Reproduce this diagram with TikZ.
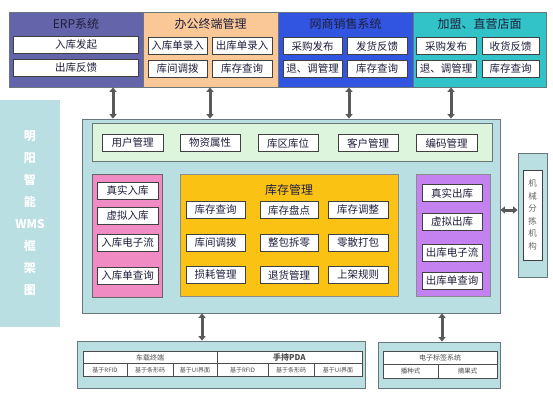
\documentclass[tikz,border=0pt]{standalone}
\usepackage{fontspec}
\setmainfont{Noto Sans CJK SC}
\usepackage{xcolor}
\usetikzlibrary{arrows.meta}
\definecolor{lblue}{RGB}{185,223,227}
\definecolor{rim}{RGB}{105,118,122}
\definecolor{grn}{RGB}{220,245,220}
\definecolor{ylw}{RGB}{250,195,20}
\definecolor{pnk}{RGB}{240,140,195}
\definecolor{vio}{RGB}{195,130,240}
\definecolor{erpc}{RGB}{100,100,170}
\definecolor{offc}{RGB}{250,200,150}
\definecolor{netc}{RGB}{50,85,225}
\definecolor{joinc}{RGB}{50,195,200}
\definecolor{ink}{RGB}{30,30,60}

\begin{document}
\begin{tikzpicture}[x=1pt,y=-1pt,
  band/.style={draw=rim, line width=0.8pt, minimum width=#1, inner sep=0pt},
  cell/.style={draw=black!75, fill=white, line width=1pt, minimum height=17pt, minimum width=#1, inner sep=0pt, text=ink, font=\fontsize{10.5}{12}\selectfont},
  head/.style={text=ink, font=\fontsize{12}{14}\selectfont},
  tcell/.style={draw=black!70, fill=white, line width=0.6pt, minimum width=#1, minimum height=12.5pt, inner sep=0pt, text=black!70, font=\fontsize{6}{7}\selectfont},
  link/.style={draw=gray!70!black, line width=3pt, {Triangle[length=4.5pt,width=7pt]}-{Triangle[length=4.5pt,width=7pt]}}]
\useasboundingbox (0,0) rectangle (553,400);

% top systems
\node[band=134pt, minimum height=75pt, fill=erpc] (erp) at (76,49.5) {};
\node[band=135pt, minimum height=75pt, fill=offc] (off) at (210.5,49.5) {};
\node[band=135pt, minimum height=75pt, fill=netc] (net) at (345.5,49.5) {};
\node[band=133pt, minimum height=75pt, fill=joinc] (join) at (479.5,49.5) {};
\node[head] (erpt) at (76,24) {ERP系统};
\node[head] (offt) at (210.5,24) {办公终端管理};
\node[head] (nett) at (345.5,24) {网商销售系统};
\node[head] (joint) at (479.5,24) {加盟、直营店面};
\node[cell=125pt] (e1) at (76,45) {入库发起};
\node[cell=125pt] (e2) at (76,68) {出库反馈};
\node[cell=59pt] (o1) at (177.5,46) {入库单录入};
\node[cell=60pt] (o2) at (242,46) {出库单录入};
\node[cell=59pt] (o3) at (177.5,68.5) {库间调拨};
\node[cell=60pt] (o4) at (242,68.5) {库存查询};
\node[cell=59pt] (n1) at (312.5,46) {采购发布};
\node[cell=60pt] (n2) at (377,46) {发货反馈};
\node[cell=59pt] (n3) at (312.5,68.5) {退、调管理};
\node[cell=60pt] (n4) at (377,68.5) {库存查询};
\node[cell=60pt] (j1) at (446,46) {采购发布};
\node[cell=57pt] (j2) at (510.5,46) {收货反馈};
\node[cell=60pt] (j3) at (446,68.5) {退、调管理};
\node[cell=57pt] (j4) at (510.5,68.5) {库存查询};

% side label
\node[fill=lblue, minimum width=60pt, minimum height=227pt, inner sep=0pt, text=white,
  align=center, font=\bfseries\fontsize{12}{22}\selectfont] (side) at (30,213.5)
  {明\\阳\\智\\能\\WMS\\框\\架\\图};

% main frame
\node[band=418pt, minimum height=194pt, fill=lblue] (main) at (291,216) {};
\node[band=400pt, minimum height=38pt, fill=grn] (base) at (292,142) {};
\node[cell=61pt] (b1) at (132.5,143) {用户管理};
\node[cell=60pt] (b2) at (210,143) {物资属性};
\node[cell=60pt] (b3) at (288,143) {库区库位};
\node[cell=60pt] (b4) at (368,143) {客户管理};
\node[cell=61pt] (b5) at (446.5,143) {编码管理};

\node[band=70pt, minimum height=123pt, fill=pnk, draw=black!60] (inb) at (127,235.5) {};
\node[cell=61pt] (i1) at (127.5,190.5) {真实入库};
\node[cell=61pt] (i2) at (127.5,215.5) {虚拟入库};
\node[cell=61pt] (i3) at (127.5,242.5) {入库电子流};
\node[cell=61pt] (i4) at (127.5,276) {入库单查询};

\node[band=218pt, minimum height=122pt, fill=ylw, draw=black!45] (stock) at (289,235) {};
\node[head] (stockt) at (289,190) {库存管理};
\node[cell=59pt] (s1) at (215.5,210) {库存查询};
\node[cell=58pt] (s2) at (289,210) {库存盘点};
\node[cell=60pt] (s3) at (358,210) {库存调整};
\node[cell=59pt] (s4) at (215.5,242.5) {库间调拨};
\node[cell=58pt] (s5) at (289,242.5) {整包拆零};
\node[cell=60pt] (s6) at (358,242.5) {零散打包};
\node[cell=59pt] (s7) at (215.5,275) {损耗管理};
\node[cell=58pt] (s8) at (289,275) {退货管理};
\node[cell=60pt] (s9) at (358,275) {上架规则};

\node[band=74pt, minimum height=122pt, fill=vio, draw=black!45] (outb) at (453,235) {};
\node[cell=60pt] (u1) at (452,193) {真实出库};
\node[cell=60pt] (u2) at (452,221.5) {虚拟出库};
\node[cell=60pt] (u3) at (452,252.5) {出库电子流};
\node[cell=60pt] (u4) at (452,281) {出库单查询};

% sorting machine
\node[band=29pt, minimum height=124pt, fill=lblue] (mech) at (532.5,215) {};
\node[draw=black!75, fill=white, line width=1pt, minimum width=19pt, minimum height=90pt,
  inner sep=0pt, align=center, text=black!60, font=\fontsize{8.5}{12.5}\selectfont] (mecht) at (532.5,215)
  {机\\械\\分\\拣\\机\\构};

% terminals
\node[band=288pt, minimum height=47pt, fill=lblue] (term) at (221,364.5) {};
\node[tcell=134pt, font=\fontsize{7}{8}\selectfont] (car) at (150,357.5) {车载终端};
\node[tcell=145pt, font=\bfseries\fontsize{8}{9}\selectfont] (pda) at (289.5,357.5) {手持PDA};
\node[tcell=44pt] (c1) at (105,370) {基于RFID};
\node[tcell=46pt] (c2) at (150,370) {基于条形码};
\node[tcell=44pt] (c3) at (195,370) {基于UI界面};
\node[tcell=51pt] (p1) at (242.5,370) {基于RFID};
\node[tcell=46pt] (p2) at (291,370) {基于条形码};
\node[tcell=48pt] (p3) at (338,370) {基于UI界面};

\node[band=122pt, minimum height=46pt, fill=lblue] (tag) at (439,365) {};
\node[tcell=114pt, font=\fontsize{7}{8}\selectfont] (tagt) at (440,358) {电子标签系统};
\node[tcell=55pt, minimum height=14pt, font=\fontsize{6.5}{7}\selectfont] (g1) at (410.5,371) {播种式};
\node[tcell=59pt, minimum height=14pt, font=\fontsize{6.5}{7}\selectfont] (g2) at (467.5,371) {摘果式};

% links
\coordinate (k1) at (113,0);
\coordinate (k2) at (210,0);
\coordinate (k3) at (349,0);
\coordinate (k4) at (451,0);
\coordinate (k5) at (202,0);
\coordinate (k6) at (442,0);
\coordinate (k7) at (0,210);
\draw[link] (k1 |- erp.south) -- (k1 |- main.north);
\draw[link] (k2 |- off.south) -- (k2 |- main.north);
\draw[link] (k3 |- net.south) -- (k3 |- main.north);
\draw[link] (k4 |- join.south) -- (k4 |- main.north);
\draw[link] (k5 |- main.south) -- (k5 |- term.north);
\draw[link] (k6 |- main.south) -- (k6 |- tag.north);
\draw[link] (main.east |- k7) -- (mech.west |- k7);
\end{tikzpicture}
\end{document}
